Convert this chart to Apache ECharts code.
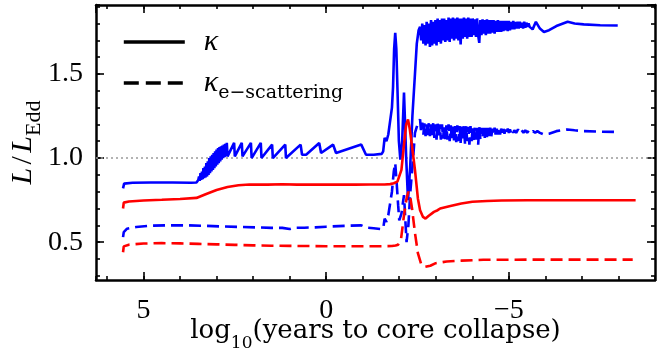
<!DOCTYPE html>
<html>
<head>
<meta charset="utf-8">
<script src="https://cdn.jsdelivr.net/npm/echarts@6.0.0/dist/echarts.min.js"></script>
<style>html,body{margin:0;padding:0;background:#fff;}#c{width:658px;height:354px;}</style>
</head>
<body>
<div id="c"></div>
<script>
// ---- axis ranges / tick steps ----
const xRange = [-9, 6.3];
const yRange = [0.275, 1.91];
const xMajorStep = 5, xMinorStep = 1;
const yMajorStep = 0.5, yMinorStep = 0.1;
const eddLevel = [[6.3, 1.0], [-9, 1.0]];

// ---- blue, kappa (solid) ----
const blueKappa = [
[5.56,0.82],[5.53,0.848],[5.3,0.853],[4.8,0.855],[4.2,0.855],[3.7,0.853],[3.55,0.855],
[3.50,0.87],[3.48,0.89],[3.46,0.865],[3.44,0.91],[3.42,0.87],[3.40,0.92],[3.38,0.875],[3.36,0.94],
[3.34,0.88],[3.32,0.95],[3.30,0.885],[3.28,0.97],[3.26,0.89],[3.24,0.98],[3.22,0.90],[3.20,1.00],
[3.18,0.91],[3.16,1.01],[3.14,0.92],[3.12,1.02],[3.10,0.93],[3.08,1.03],[3.06,0.94],[3.04,1.04],
[3.02,0.95],[3.00,1.05],[2.98,0.96],[2.96,1.06],[2.94,0.97],[2.92,1.065],[2.90,0.98],[2.88,1.07],
[2.86,0.99],[2.84,1.075],[2.82,1.00],[2.80,1.08],[2.78,1.005],[2.76,1.085],[2.74,1.01],[2.72,1.09],
[2.70,1.01],[2.52,1.09],[2.50,1.01],[2.31,1.09],[2.29,1.01],[2.06,1.09],
[2.04,1.00],[1.79,1.09],[1.77,1.00],[1.48,1.08],[1.46,1.00],[1.12,1.08],[1.10,1.00],[0.70,1.08],
[0.66,1.02],[0.55,1.02],[0.19,1.09],[0.14,1.03],[-0.19,1.08],[-0.27,1.03],[-0.96,1.08],[-1.09,1.02],
[-1.3,1.02],[-1.52,1.025],[-1.56,1.04],[-1.6,1.12],[-1.65,1.10],[-1.7,1.14],[-1.75,1.15],[-1.8,1.3],
[-1.83,1.42],[-1.86,1.65],[-1.89,1.745],[-1.92,1.65],[-1.95,1.42],[-1.99,1.1],[-2.03,0.99],[-2.08,1.1],
[-2.13,1.39],[-2.16,1.2],[-2.19,1.0],[-2.24,0.75],[-2.3,0.95],[-2.36,1.25],[-2.43,1.5],[-2.48,1.68],
[-2.53,1.76],[-2.57,1.78],[-2.60,1.70],[-2.63,1.80],[-2.66,1.68],[-2.69,1.79],[-2.72,1.67],[-2.75,1.81],
[-2.78,1.68],[-2.81,1.80],[-2.84,1.66],[-2.87,1.82],[-2.90,1.67],[-2.93,1.81],[-2.96,1.68],[-2.99,1.82],
[-3.02,1.67],[-3.05,1.83],[-3.08,1.69],[-3.11,1.82],[-3.14,1.68],[-3.17,1.83],[-3.20,1.70],[-3.23,1.83],
[-3.26,1.69],[-3.29,1.82],[-3.32,1.70],[-3.35,1.835],[-3.38,1.69],[-3.41,1.83],[-3.44,1.71],[-3.47,1.835],
[-3.50,1.70],[-3.53,1.83],[-3.56,1.71],[-3.59,1.835],[-3.62,1.70],[-3.65,1.83],[-3.68,1.675],[-3.71,1.83],
[-3.74,1.71],[-3.77,1.835],[-3.80,1.72],[-3.83,1.83],[-3.86,1.71],[-3.89,1.835],[-3.92,1.72],[-3.95,1.83],
[-3.98,1.72],[-4.01,1.83],[-4.04,1.73],[-4.07,1.825],[-4.10,1.72],[-4.13,1.83],[-4.16,1.73],[-4.19,1.685],
[-4.22,1.82],[-4.25,1.73],[-4.28,1.825],[-4.31,1.74],[-4.34,1.82],[-4.37,1.73],[-4.40,1.825],[-4.43,1.74],
[-4.46,1.82],[-4.49,1.74],[-4.52,1.82],[-4.55,1.745],[-4.58,1.82],[-4.61,1.74],[-4.64,1.815],[-4.67,1.75],
[-4.70,1.82],[-4.73,1.75],[-4.76,1.815],[-4.79,1.75],[-4.82,1.815],[-4.85,1.755],[-4.88,1.815],[-4.91,1.76],
[-4.94,1.815],[-4.97,1.755],[-5.00,1.815],[-5.03,1.76],[-5.06,1.81],[-5.09,1.765],[-5.12,1.815],[-5.15,1.765],
[-5.18,1.81],[-5.21,1.77],[-5.24,1.81],[-5.27,1.77],[-5.30,1.81],[-5.33,1.775],[-5.36,1.805],[-5.39,1.77],
[-5.42,1.81],[-5.45,1.775],[-5.48,1.805],[-5.51,1.78],[-5.54,1.80],[-5.57,1.78],[-5.60,1.79],[-5.65,1.765],
[-5.74,1.81],[-5.85,1.77],[-5.96,1.75],[-6.1,1.76],[-6.3,1.785],[-6.61,1.81],[-6.8,1.80],[-7.05,1.795],
[-7.5,1.79],[-7.98,1.788]
];

// ---- blue, kappa e-scattering (dashed) ----
const blueKappaES = [
[5.56,0.53],[5.54,0.56],[5.45,0.58],[5.2,0.59],[4.8,0.598],[4.3,0.6],[3.8,0.6],[3.3,0.597],
[2.8,0.593],[2.3,0.59],[1.8,0.587],[1.5,0.585],[1.2,0.585],[1.0,0.578],[0.9,0.585],[0.6,0.586],
[0.3,0.588],[0.0,0.592],[-0.5,0.597],[-0.96,0.6],[-1.09,0.587],[-1.3,0.583],[-1.5,0.578],[-1.56,0.58],
[-1.6,0.64],[-1.65,0.62],[-1.7,0.66],[-1.75,0.67],[-1.8,0.8],[-1.85,0.92],[-1.89,0.97],[-1.93,0.85],
[-1.97,0.72],[-2.0,0.63],[-2.06,0.67],[-2.13,0.78],[-2.17,0.62],[-2.2,0.5],[-2.25,0.6],[-2.3,0.79],
[-2.38,1.0],[-2.43,1.15],[-2.5,1.2],[-2.57,1.23],[-2.60,1.15],[-2.63,1.21],[-2.66,1.14],[-2.69,1.21],
[-2.72,1.13],[-2.75,1.20],[-2.78,1.12],[-2.81,1.21],[-2.84,1.13],[-2.87,1.20],[-2.90,1.12],[-2.93,1.21],
[-2.96,1.12],[-2.99,1.20],[-3.02,1.11],[-3.05,1.205],[-3.08,1.12],[-3.11,1.20],[-3.14,1.11],[-3.17,1.20],
[-3.20,1.115],[-3.23,1.20],[-3.26,1.10],[-3.29,1.195],[-3.32,1.11],[-3.35,1.20],[-3.38,1.10],[-3.41,1.195],
[-3.44,1.11],[-3.47,1.20],[-3.50,1.10],[-3.53,1.19],[-3.56,1.095],[-3.59,1.195],[-3.62,1.10],[-3.65,1.19],
[-3.68,1.09],[-3.71,1.19],[-3.74,1.10],[-3.77,1.19],[-3.80,1.085],[-3.83,1.19],[-3.86,1.10],[-3.89,1.185],
[-3.92,1.08],[-3.95,1.19],[-3.98,1.10],[-4.01,1.185],[-4.04,1.09],[-4.07,1.185],[-4.10,1.11],[-4.13,1.18],
[-4.16,1.08],[-4.19,1.185],[-4.22,1.11],[-4.25,1.18],[-4.28,1.12],[-4.31,1.18],[-4.34,1.12],[-4.37,1.18],
[-4.40,1.125],[-4.43,1.18],[-4.46,1.13],[-4.49,1.18],[-4.52,1.13],[-4.55,1.175],[-4.58,1.135],[-4.61,1.18],
[-4.64,1.135],[-4.67,1.175],[-4.70,1.14],[-4.73,1.175],[-4.76,1.14],[-4.79,1.175],[-4.82,1.145],[-4.85,1.175],
[-4.88,1.145],[-4.91,1.17],[-4.94,1.145],[-4.97,1.175],[-5.00,1.15],[-5.03,1.17],[-5.06,1.15],[-5.09,1.17],
[-5.12,1.15],[-5.15,1.165],[-5.20,1.15],[-5.25,1.17],[-5.30,1.15],[-5.35,1.165],[-5.40,1.15],[-5.45,1.165],
[-5.50,1.15],[-5.55,1.165],[-5.60,1.15],[-5.66,1.16],[-5.72,1.15],[-5.78,1.16],[-5.85,1.15],[-5.96,1.14],
[-6.1,1.145],[-6.3,1.16],[-6.6,1.17],[-6.8,1.165],[-7.05,1.16],[-7.5,1.157],[-7.98,1.155]
];

// ---- red, kappa (solid) ----
const redKappa = [
[5.56,0.70],[5.54,0.735],[5.4,0.742],[5.0,0.748],[4.5,0.752],[4.0,0.757],[3.55,0.763],[3.3,0.785],
[3.0,0.81],[2.7,0.828],[2.4,0.838],[2.1,0.843],[1.6,0.842],[1.2,0.844],[0.8,0.842],[0.4,0.843],
[0.0,0.842],[-0.4,0.843],[-0.8,0.842],[-1.2,0.843],[-1.6,0.843],[-1.75,0.845],[-1.85,0.85],[-1.95,0.86],
[-2.0,0.87],[-2.06,0.93],[-2.13,1.08],[-2.19,1.2],[-2.24,1.23],[-2.29,1.17],[-2.35,1.07],[-2.43,0.93],
[-2.51,0.76],[-2.57,0.69],[-2.65,0.65],[-2.72,0.64],[-2.8,0.655],[-2.95,0.68],[-3.05,0.69],[-3.08,0.685],
[-3.12,0.70],[-3.4,0.715],[-3.7,0.73],[-4.0,0.74],[-4.4,0.745],[-4.8,0.748],[-5.5,0.749],[-6.5,0.749],
[-7.5,0.749],[-8.47,0.749]
];

// ---- red, kappa e-scattering (dashed) ----
const redKappaES = [
[5.56,0.44],[5.54,0.475],[5.4,0.485],[5.0,0.492],[4.5,0.494],[4.0,0.493],[3.5,0.49],[3.0,0.487],
[2.5,0.484],[2.0,0.481],[1.5,0.479],[1.0,0.478],[0.5,0.477],[0.0,0.476],[-0.5,0.476],[-1.0,0.476],
[-1.5,0.476],[-1.8,0.477],[-1.9,0.48],[-1.97,0.485],[-2.05,0.52],[-2.13,0.66],[-2.2,0.76],[-2.25,0.80],
[-2.3,0.77],[-2.35,0.70],[-2.43,0.555],[-2.51,0.435],[-2.6,0.37],[-2.7,0.353],[-2.85,0.36],[-3.0,0.375],
[-3.3,0.385],[-3.7,0.39],[-4.3,0.395],[-5.5,0.396],[-7.0,0.396],[-8.39,0.396]
];

const BLUE = '#0000ff', RED = '#ff0000';
const SERIF = '"Liberation Serif", "DejaVu Serif", serif';
const WIDE = '"DejaVu Serif", serif';
const fmtX = v => (v < 0 ? '\u2212' + Math.abs(v) : String(v));
const fmtY = v => Number(v).toFixed(1);

// plot frame in px and derived scales (layout only)
const L = 96, R = 3, T = 5, B = 74, W = 658, H = 354;
const pxX = (W - L - R) / (xRange[1] - xRange[0]);
const pxY = (H - T - B) / (yRange[1] - yRange[0]);
const yMinorMin = 0.3, yMajorMin = 0.5, xMajorMin = -5;

const grids = [
  { left: L, right: R, top: T, bottom: B },                                       // data + frame + x minor
  { left: L, right: R, top: T, bottom: B + (yMinorMin - yRange[0]) * pxY },        // y minor ticks
  { left: L, right: R, top: T, bottom: B + (yMajorMin - yRange[0]) * pxY },        // y major ticks
  { left: L, right: R + (xMajorMin - xRange[0]) * pxX, top: T, bottom: B }         // x major ticks
].map(g => Object.assign(g, { outerBoundsMode: 'none', containLabel: false }));

const tickStyle = { color: '#000', width: 1.6 };
const minorTick = { show: true, inside: true, length: 4, lineStyle: tickStyle };
const majorTick = { show: true, inside: true, length: 8, lineStyle: tickStyle };
const lineOn = { show: true, onZero: false, lineStyle: { color: '#000', width: 2.5 } };
const lineOff = { show: false, onZero: false };
const noLabel = { show: false };

function hiddenX(g) { return { type: 'value', gridIndex: g, show: false, min: 0, max: 1 }; }
function hiddenY(g) { return { type: 'value', gridIndex: g, show: false, min: 0, max: 1 }; }

const xAxes = [
  { type: 'value', gridIndex: 0, position: 'bottom', min: xRange[0], max: xRange[1], interval: xMinorStep, inverse: true,
    axisLine: lineOn, axisTick: minorTick, axisLabel: noLabel, splitLine: { show: false },
    name: '{t|log}{s|10}{t|(years to core collapse)}', nameLocation: 'middle', nameGap: 36,
    nameTextStyle: { color: '#000', rich: {
      t: { fontFamily: WIDE, fontSize: 26, color: '#000', lineHeight: 30 },
      s: { fontFamily: WIDE, fontSize: 17, color: '#000', lineHeight: 30, verticalAlign: 'bottom', padding: [0, 0, -6, 0] }
    } } },
  { type: 'value', gridIndex: 0, position: 'top', min: xRange[0], max: xRange[1], interval: xMinorStep, inverse: true,
    axisLine: lineOn, axisTick: minorTick, axisLabel: noLabel, splitLine: { show: false } },
  hiddenX(1), hiddenX(2),
  { type: 'value', gridIndex: 3, position: 'bottom', min: xMajorMin, max: xRange[1], interval: xMajorStep, inverse: true,
    axisLine: lineOff, axisTick: majorTick,
    axisLabel: { margin: 17, color: '#000', fontFamily: SERIF, fontSize: 28, formatter: fmtX,
      showMinLabel: true, showMaxLabel: false }, splitLine: { show: false } },
  { type: 'value', gridIndex: 3, position: 'top', min: xMajorMin, max: xRange[1], interval: xMajorStep, inverse: true,
    axisLine: lineOff, axisTick: majorTick, axisLabel: noLabel, splitLine: { show: false } }
];

const yAxes = [
  { type: 'value', gridIndex: 0, position: 'left', min: yRange[0], max: yRange[1],
    axisLine: lineOn, axisTick: { show: false }, axisLabel: noLabel, splitLine: { show: false },
    name: '{i|L} {t|/} {i|L}{s|Edd}', nameLocation: 'middle', nameGap: 57,
    nameTextStyle: { color: '#000', rich: {
      i: { fontFamily: SERIF, fontStyle: 'italic', fontSize: 30, color: '#000', lineHeight: 32 },
      t: { fontFamily: SERIF, fontSize: 30, color: '#000', lineHeight: 32 },
      s: { fontFamily: SERIF, fontSize: 22, color: '#000', lineHeight: 32, verticalAlign: 'bottom', padding: [0, 0, -6, 0] }
    } } },
  { type: 'value', gridIndex: 0, position: 'right', min: yRange[0], max: yRange[1],
    axisLine: lineOn, axisTick: { show: false }, axisLabel: noLabel, splitLine: { show: false } },
  { type: 'value', gridIndex: 1, position: 'left', min: yMinorMin, max: yRange[1], interval: yMinorStep,
    axisLine: lineOff, axisTick: minorTick, axisLabel: noLabel, splitLine: { show: false } },
  { type: 'value', gridIndex: 1, position: 'right', min: yMinorMin, max: yRange[1], interval: yMinorStep,
    axisLine: lineOff, axisTick: minorTick, axisLabel: noLabel, splitLine: { show: false } },
  { type: 'value', gridIndex: 2, position: 'left', min: yMajorMin, max: yRange[1], interval: yMajorStep,
    axisLine: lineOff, axisTick: majorTick,
    axisLabel: { margin: 13, color: '#000', fontFamily: SERIF, fontSize: 28, formatter: fmtY,
      showMinLabel: true, showMaxLabel: false }, splitLine: { show: false } },
  { type: 'value', gridIndex: 2, position: 'right', min: yMajorMin, max: yRange[1], interval: yMajorStep,
    axisLine: lineOff, axisTick: majorTick, axisLabel: noLabel, splitLine: { show: false } },
  hiddenY(3)
];

function line(name, data, color, dashed, z) {
  return {
    name, type: 'line', data, xAxisIndex: 0, yAxisIndex: 0, symbol: 'none', showSymbol: false,
    animation: false, silent: true, z: z || 2,
    lineStyle: { color, width: 2.6, type: dashed ? [12, 6] : 'solid' },
    itemStyle: { color }
  };
}

const legendText = {
  color: '#000', padding: [0, 0, 0, 14],
  rich: {
    k: { fontFamily: SERIF, fontStyle: 'italic', fontSize: 30, color: '#000', lineHeight: 32 },
    s: { fontFamily: WIDE, fontSize: 19, color: '#000', lineHeight: 32, verticalAlign: 'bottom', padding: [0, 0, -4, 0] }
  }
};
const legendBase = { left: 117, orient: 'vertical', itemWidth: 61, itemHeight: 14, selectedMode: false,
  itemStyle: { opacity: 0 }, textStyle: legendText };

const option = {
  backgroundColor: '#fff',
  animation: false,
  grid: grids,
  xAxis: xAxes,
  yAxis: yAxes,
  legend: [
    Object.assign({ data: ['k1'], top: 22, formatter: () => '{k|\u03ba}',
      lineStyle: { color: '#000', width: 3.6, type: 'solid' } }, legendBase),
    Object.assign({ data: ['k2'], top: 63, formatter: () => '{k|\u03ba}{s|e\u2212scattering}',
      lineStyle: { color: '#000', width: 3.6, type: [15, 7] } }, legendBase)
  ],
  series: [
    { type: 'line', data: eddLevel, xAxisIndex: 0, yAxisIndex: 0, symbol: 'none', silent: true, z: 1,
      lineStyle: { color: '#9a9a9a', width: 1.6, type: [2, 3] } },
    line('bKES', blueKappaES, BLUE, true, 2),
    line('bK', blueKappa, BLUE, false, 2),
    line('rKES', redKappaES, RED, true, 3),
    line('rK', redKappa, RED, false, 3),
    { name: 'k1', type: 'line', data: [], xAxisIndex: 0, yAxisIndex: 0, symbol: 'none',
      lineStyle: { color: '#000', width: 3.6, type: 'solid' }, itemStyle: { color: '#000', opacity: 0 } },
    { name: 'k2', type: 'line', data: [], xAxisIndex: 0, yAxisIndex: 0, symbol: 'none',
      lineStyle: { color: '#000', width: 3.6, type: [15, 7] }, itemStyle: { color: '#000', opacity: 0 } }
  ]
};

const chart = echarts.init(document.getElementById('c'), null, { renderer: 'canvas' });
chart.setOption(option);
</script>
</body>
</html>
